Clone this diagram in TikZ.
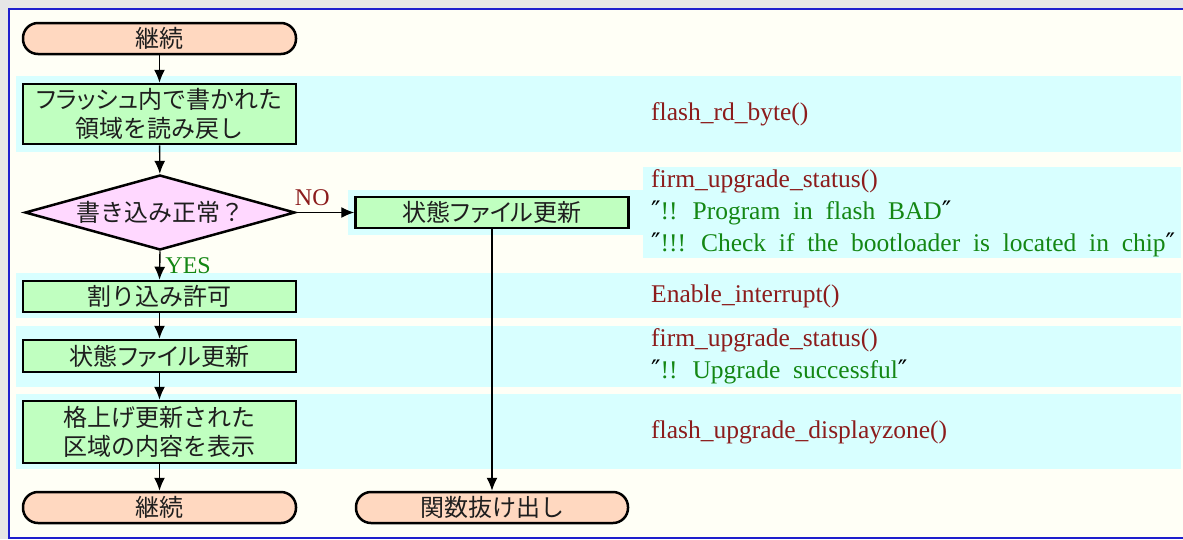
\documentclass[tikz,border=0pt]{standalone}
\usepackage{fontspec}
\setmainfont{Liberation Serif}
\newfontfamily\jp{Noto Sans CJK JP}
\newfontfamily\jpp{Noto Sans CJK JP}[RawFeature=+palt]
\newfontfamily\qf{DejaVu Serif}
\usetikzlibrary{shapes.geometric,arrows.meta}

\definecolor{bggray}{RGB}{230,230,230}
\definecolor{panel}{RGB}{255,255,246}
\definecolor{frameblue}{RGB}{30,30,205}
\definecolor{band}{RGB}{216,255,255}
\definecolor{peach}{RGB}{255,216,192}
\definecolor{mint}{RGB}{192,255,192}
\definecolor{pinkish}{RGB}{255,216,255}
\definecolor{fnred}{RGB}{140,28,28}
\definecolor{msggreen}{RGB}{20,135,20}
\definecolor{inkgray}{RGB}{30,30,30}

% proportional kana inside the node labels
\newcommand{\pk}[1]{{\jpp #1}}
% slanted double-prime quote
\newcommand{\dq}{{\qf\color{black}\char"2033}}
% message font with wide inter-word spaces
\newcommand{\msgfont}{\fontsize{25.5}{30}\selectfont\spaceskip=0.5em plus 0.1em\relax}

\begin{document}
\begin{tikzpicture}[x=1pt,y=-1pt,
  jptext/.style={font=\jp\fontsize{24}{29.5}\selectfont, text=inkgray},
  shape base/.style={jptext, draw=black, line width=2.5pt, inner sep=0pt, align=center},
  term/.style={shape base, rectangle, rounded corners=15pt, fill=peach,
               minimum width=273pt, minimum height=31pt},
  procbox/.style={shape base, rectangle, fill=mint, minimum width=273pt},
  decision/.style={shape base, diamond, aspect=3.6, fill=pinkish,
                   minimum width=270pt, minimum height=75pt},
  arr/.style={line width=1.4pt, -{Latex[length=13pt,width=11pt]}},
  fn/.style={anchor=west, inner sep=0pt, text=fnred, font=\fontsize{25.5}{30}\selectfont},
  msg/.style={anchor=west, inner sep=0pt, text=msggreen, font=\msgfont},
  cond/.style={inner sep=1pt, font=\fontsize{24}{28}\selectfont}
]
\useasboundingbox (0,0) rectangle (1183,539);

% page and panel
\fill[bggray] (0,0) rectangle (1183,539);
\fill[panel] (8,8) rectangle (1183,538);
\draw[frameblue, line width=2pt] (1183,8.5) -- (8.5,8.5) -- (8.5,537.5) -- (1183,537.5);

% cyan row bands
\fill[band] (16,76) rectangle (1181,152);
\fill[band] (348,190) rectangle (643,235);
\fill[band] (643,167) rectangle (1181,258);
\fill[band] (16,273) rectangle (1181,318);
\fill[band] (16,326) rectangle (1181,387);
\fill[band] (16,394) rectangle (1181,469);

% flow nodes
\node[term] (start) at (159.5,38.5) {継続};
\node[procbox, minimum height=60pt] (read) at (159.5,114)
  {\pk{フラッシュ}内で書かれた\\領域を読み戻し};
\node[decision] (check) at (160,212.5) {書き込み正常？};
\node[procbox, minimum height=31pt] (badstat) at (492,212.5) {状態\pk{ファイル}更新};
\node[term, minimum width=272pt] (quit) at (492,507.5) {関数抜け出し};
\node[procbox, minimum height=31pt] (irq) at (159.5,296.5) {割り込み許可};
\node[procbox, minimum height=32pt] (okstat) at (159.5,356) {状態\pk{ファイル}更新};
\node[procbox, minimum height=62pt] (show) at (159.5,432)
  {格上げ更新された\\区域の内容を表示};
\node[term] (cont) at (159.5,507.5) {継続};

% connectors
\draw[arr] (start) -- (read);
\draw[arr] (read) -- (check);
\draw[arr] (check.east) -- node[cond, pos=0, anchor=south west, text=fnred, xshift=-3pt, yshift=5pt] {NO} (badstat.west);
\draw[arr] (check.south) -- node[cond, pos=0.5, anchor=west, text=msggreen, xshift=4pt] {YES} (irq.north);
\draw[arr] (badstat) -- (quit);
\draw[arr] (irq) -- (okstat);
\draw[arr] (okstat) -- (show);
\draw[arr] (show) -- (cont);

% function calls and messages
\node[fn] (f1) at (651,114) {flash\_rd\_byte()};
\node[fn] (f2) at (651,181) {firm\_upgrade\_status()};
\node[msg] (m2a) at (651,213) {\dq!! Program in flash BAD\dq};
\node[msg] (m2b) at (651,245) {\dq!!! Check if the bootloader is located in chip\dq};
\node[fn] (f3) at (651,296.5) {Enable\_interrupt()};
\node[fn] (f4) at (651,340) {firm\_upgrade\_status()};
\node[msg] (m4) at (651,372) {\dq!! Upgrade successful\dq};
\node[fn] (f5) at (651,432) {flash\_upgrade\_displayzone()};
\end{tikzpicture}
\end{document}
